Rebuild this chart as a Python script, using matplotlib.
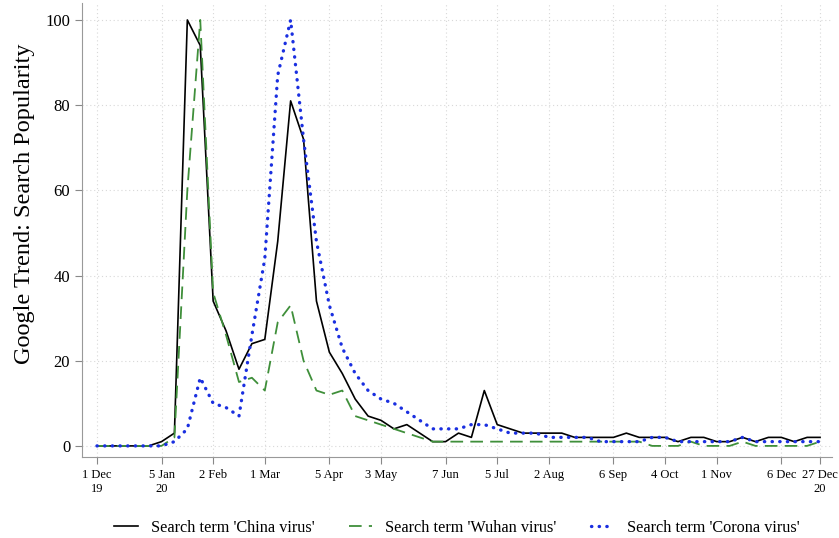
import matplotlib
matplotlib.use("Agg")
import matplotlib.pyplot as plt
import pandas as pd

# weekly Google Trends values, 1 Dec 2019 .. 27 Dec 2020
weeks = pd.date_range("2019-12-01", "2020-12-27", freq="7D")

china = [0, 0, 0, 0, 0, 1, 3, 100, 94, 34, 27, 18, 24, 25, 48, 81, 72, 34, 22,
         17, 11, 7, 6, 4, 5, 3, 1, 1, 3, 2, 13, 5, 4, 3, 3, 3, 3, 2, 2, 2, 2, 3,
         2, 2, 2, 1, 2, 2, 1, 1, 2, 1, 2, 2, 1, 2, 2]
wuhan = [0, 0, 0, 0, 0, 0, 2, 60, 100, 36, 26, 15, 16, 13, 29, 33, 20, 13, 12,
         13, 7, 6, 5, 4, 3, 2, 1, 1, 1, 1, 1, 1, 1, 1, 1, 1, 1, 1, 1, 1, 1, 1,
         1, 0, 0, 0, 1, 0, 0, 0, 1, 0, 0, 0, 0, 0, 1]
corona = [0, 0, 0, 0, 0, 0, 1, 4, 16, 10, 9, 7, 26, 44, 87, 100, 72, 48, 33,
          23, 17, 13, 11, 10, 8, 6, 4, 4, 4, 5, 5, 4, 3, 3, 3, 2, 2, 2, 2, 1, 1,
          1, 1, 2, 2, 1, 1, 1, 1, 1, 2, 1, 1, 1, 1, 1, 1]

tick_dates = ["2019-12-01", "2020-01-05", "2020-02-02", "2020-03-01",
              "2020-04-05", "2020-05-03", "2020-06-07", "2020-07-05",
              "2020-08-02", "2020-09-06", "2020-10-04", "2020-11-01",
              "2020-12-06", "2020-12-27"]
tick_labels = ["1 Dec\n19", "5 Jan\n20", "2 Feb", "1 Mar", "5 Apr", "3 May",
               "7 Jun", "5 Jul", "2 Aug", "6 Sep", "4 Oct", "1 Nov", "6 Dec",
               "27 Dec\n20"]

plt.rcParams["font.family"] = ["Liberation Serif", "DejaVu Serif"]

fig = plt.figure(figsize=(8.39, 5.38), dpi=100)
ax = fig.add_axes([0.0977, 0.1506, 0.894, 0.844])

ax.plot(weeks, china, color="black", lw=1.2, label="Search term 'China virus'")
ax.plot(weeks, wuhan, color="#3f8f3a", lw=1.3, ls=(0, (7, 4)),
        label="Search term 'Wuhan virus'")
ax.plot(weeks, corona, color="#1a2fe0", lw=2.4, ls=(0, (0.1, 2.2)),
        dash_capstyle="round", label="Search term 'Corona virus'")

ticks = pd.to_datetime(tick_dates)
ax.set_xticks(ticks)
ax.set_xticklabels(tick_labels, fontsize=9)
ax.set_yticks(range(0, 101, 20))
ax.tick_params(axis="y", labelsize=12)
ax.tick_params(colors="#888888", labelcolor="black", length=5)

week = pd.Timedelta(days=7)
ax.set_xlim(weeks[0] - 1.16 * week, weeks[-1] + 0.93 * week)
ax.set_ylim(-2.6, 104)

ax.grid(True, color="#d8d8d8", ls=(0, (1, 2.5)), lw=0.8)
for s in ["top", "right"]:
    ax.spines[s].set_visible(False)
for s in ["left", "bottom"]:
    ax.spines[s].set_color("#999999")

ax.set_ylabel("Google Trend: Search Popularity", fontsize=17.5)
ax.yaxis.set_label_coords(-0.063, 0.557)

fig.legend(loc="center", bbox_to_anchor=(0.545, 0.019), ncol=3, frameon=False,
           fontsize=11.7, handlelength=1.42, handletextpad=0.8,
           columnspacing=2.15)

fig.savefig("out.png", dpi=100)
